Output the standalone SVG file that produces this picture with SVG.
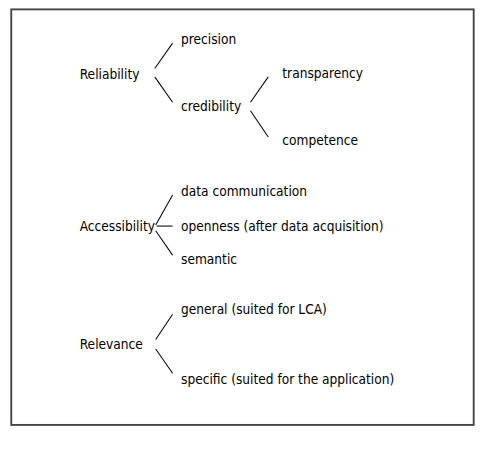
<svg xmlns="http://www.w3.org/2000/svg" width="486" height="454" viewBox="0 0 486 454">
<style>
text{font-family:"DejaVu Sans Condensed","DejaVu Sans",Verdana,sans-serif;font-stretch:condensed;font-size:14.5px;fill:#000}
.c line{stroke:#000;stroke-width:1.1}
</style>
<rect width="486" height="454" fill="#fff"/>
<g transform="scale(0.938)">
<rect id="frame" x="12" y="10" width="493" height="443" fill="none" stroke="#444" stroke-width="2"/>
<g id="reliability"><text x="85" y="84">Reliability</text></g>
<g id="precision"><text x="193" y="47">precision</text></g>
<g id="credibility"><text x="193" y="118">credibility</text></g>
<g id="transparency"><text x="301" y="83">transparency</text></g>
<g id="competence"><text x="301" y="155">competence</text></g>
<g id="accessibility"><text x="85" y="246">Accessibility</text></g>
<g id="datacomm"><text x="193" y="209">data communication</text></g>
<g id="openness"><text x="193" y="246">openness (after data acquisition)</text></g>
<g id="semantic"><text x="193" y="281">semantic</text></g>
<g id="relevance"><text x="85" y="372">Relevance</text></g>
<g id="general"><text x="193" y="335">general (suited for LCA)</text></g>
<g id="specific"><text x="193" y="409">specific (suited for the application)</text></g>
<g id="connectors" class="c">
<line x1="165" y1="73" x2="184" y2="46"/>
<line x1="165" y1="82" x2="184" y2="109"/>
<line x1="267" y1="109" x2="286" y2="82"/>
<line x1="267" y1="118" x2="286" y2="146"/>
<line x1="166" y1="240" x2="184" y2="208"/>
<line x1="167" y1="241" x2="184" y2="241"/>
<line x1="166" y1="246" x2="184" y2="272"/>
<line x1="166" y1="362" x2="184" y2="335"/>
<line x1="166" y1="372" x2="184" y2="398"/>
</g>
</g>
</svg>
